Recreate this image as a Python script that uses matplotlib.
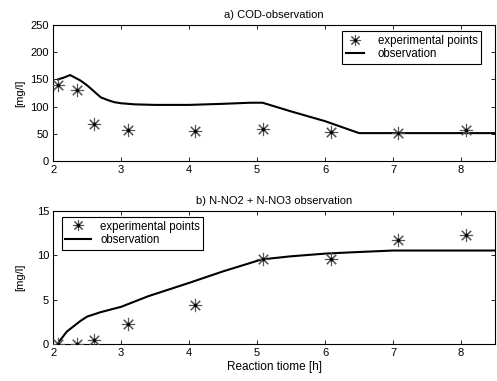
import matplotlib
matplotlib.use("Agg")
import matplotlib.pyplot as plt
from matplotlib.lines import Line2D

plt.rcParams['font.family'] = ['Liberation Sans', 'DejaVu Sans']
plt.rcParams['font.size'] = 8

# Experimental points
t_exp = [2.07, 2.35, 2.6, 3.1, 4.08, 5.08, 6.08, 7.08, 8.08]
cod_exp = [140, 130, 68, 57, 55, 58, 53, 52, 56]
no_exp = [0.0, 0.0, 0.4, 2.3, 4.4, 9.6, 9.6, 11.7, 12.3]

# Observation (model) curves
t_cod = [2.07, 2.15, 2.25, 2.4, 2.5, 2.6, 2.7, 2.8, 2.9, 3.0, 3.2, 3.5, 4.0, 4.5, 4.9, 5.08,
         5.5, 6.0, 6.5, 7.0, 8.0, 8.5]
cod_obs = [150, 153, 158, 148, 139, 128, 117, 112, 108, 106, 104, 103, 103, 105, 107, 107,
           91, 73, 51, 51, 51, 51]
t_no = [2.07, 2.1, 2.2, 2.3, 2.4, 2.5, 2.7, 3.0, 3.4, 4.0, 4.5, 5.07, 5.5, 6.0, 6.4, 7.0, 8.5]
no_obs = [0.0, 0.4, 1.4, 2.0, 2.6, 3.1, 3.6, 4.2, 5.4, 6.9, 8.2, 9.55, 9.9, 10.2, 10.35,
          10.55, 10.55]

xticks = [2, 3, 4, 5, 6, 7, 8]

fig = plt.figure(figsize=(4.97, 3.81), dpi=100)
ax1 = fig.add_axes([0.107, 0.578, 0.889, 0.356])
ax2 = fig.add_axes([0.107, 0.097, 0.889, 0.349])

star = (8, 2, 0)

def draw(ax, tx, yx, to, yo, loc, bbox, hlen, hpad):
    ax.plot(to, yo, color='black', lw=1.5, zorder=3)
    ax.plot(tx, yx, linestyle='none', marker=star, markersize=9.5, markeredgewidth=0.8,
            color='#555555', zorder=4)
    ax.plot(tx, yx, linestyle='none', marker='.', markersize=3, color='black', zorder=5)
    h1 = (Line2D([], [], linestyle='none', marker=star, markersize=8, markeredgewidth=0.8,
                 color='#555555'),
          Line2D([], [], linestyle='none', marker='.', markersize=3, color='black'))
    h2 = Line2D([], [], color='black', lw=1.5)
    leg = ax.legend([h1, h2], ['experimental points', 'observation'], loc=loc,
                    bbox_to_anchor=bbox, fancybox=False, framealpha=1, edgecolor='black',
                    fontsize=8.3, handlelength=hlen, borderpad=0.3, labelspacing=0.15,
                    handletextpad=hpad, borderaxespad=0)
    leg.get_frame().set_linewidth(0.8)
    ax.set_xlim(2, 8.5)
    ax.set_xticks(xticks)
    ax.tick_params(direction='in', top=True, right=True, length=3, width=0.6, pad=3,
                   labelsize=8)
    for s in ax.spines.values():
        s.set_linewidth(0.8)

draw(ax1, t_exp, cod_exp, t_cod, cod_obs, 'upper right', (0.969, 0.955), 1.6, 1.2)
ax1.set_ylim(0, 250)
ax1.set_yticks([0, 50, 100, 150, 200, 250])
ax1.set_ylabel('[mg/l]', labelpad=4)
ax1.set_title('a) COD-observation', fontsize=8, pad=5)

draw(ax2, t_exp, no_exp, t_no, no_obs, 'upper left', (0.02, 0.955), 2.2, 0.8)
ax2.set_ylim(0, 15)
ax2.set_yticks([0, 5, 10, 15])
ax2.set_ylabel('[mg/l]', labelpad=8)
ax2.set_title('b) N-NO2 + N-NO3 observation', fontsize=8, pad=5)
ax2.set_xlabel('Reaction tiome [h]', fontsize=8.5, labelpad=2)

fig.savefig('out.png', dpi=100)
